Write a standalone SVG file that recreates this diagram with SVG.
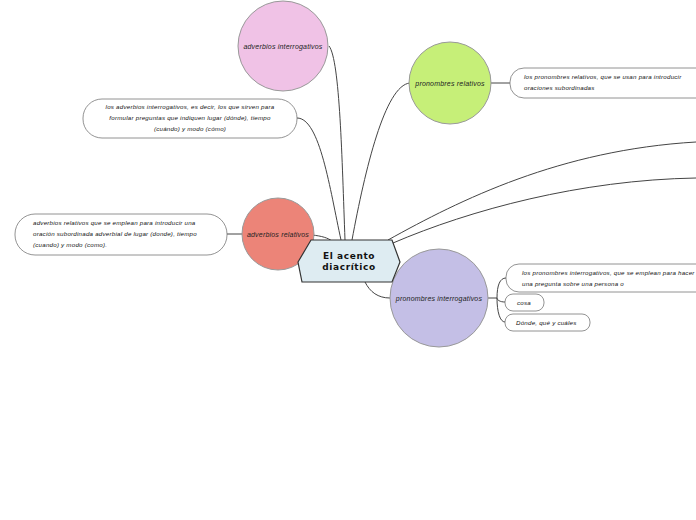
<svg xmlns="http://www.w3.org/2000/svg" width="696" height="520" viewBox="0 0 696 520">
<style>
.c{fill:none;stroke:#444;stroke-width:1}
.circ{stroke:#999;stroke-width:1}
.lbl{font-family:"Liberation Sans",Arial,sans-serif;font-style:italic;font-size:7px;fill:#222;letter-spacing:0.2px}
.box{fill:#fff;stroke:#777;stroke-width:0.8}
.bt{font-family:"Liberation Sans",Arial,sans-serif;font-style:italic;font-size:6.2px;fill:#111;letter-spacing:0.22px}
.main{font-family:"DejaVu Sans",Verdana,sans-serif;font-weight:bold;font-size:9px;fill:#111;letter-spacing:0.6px}
</style>
<rect width="696" height="520" fill="#fff"/>
<g id="connectors">
<path class="c" d="M345,240 C342,160 340,60 329,46"/>
<path class="c" d="M341,240 C330,190 320,118 297,118"/>
<path class="c" d="M352,240 C365,170 385,85 410,83"/>
<path class="c" d="M388,240 C460,200 560,150 696,142"/>
<path class="c" d="M393,243 C470,210 580,180 696,178"/>
<path class="c" d="M312,235 C322,236 328,238 332,241"/>
<path class="c" d="M242,234 L227,234"/>
<path class="c" d="M365,282 C370,292 378,298 390,298"/>
<path class="c" d="M491,83 L510,83"/>
<path class="c" d="M488,298 L497,298"/>
<path class="c" d="M497,298 C497,285 500,278 506,278"/>
<path class="c" d="M497,298 C497,300 500,302 505,302"/>
<path class="c" d="M497,298 C497,312 500,322 505,322"/>
</g>
<g id="n-adv-interrog">
<circle class="circ" cx="283" cy="46" r="45" fill="#f0c2e6"/>
<text class="lbl" x="283" y="48.5" text-anchor="middle">adverbios interrogativos</text>
</g>
<g id="n-pron-rel">
<circle class="circ" cx="450" cy="83" r="41" fill="#c6ef78"/>
<text class="lbl" x="450" y="85.5" text-anchor="middle">pronombres relativos</text>
</g>
<g id="n-adv-rel">
<circle class="circ" cx="278" cy="234" r="36" fill="#ec8478"/>
<text class="lbl" x="278" y="236.5" text-anchor="middle">adverbios relativos</text>
</g>
<g id="n-pron-interrog">
<circle class="circ" cx="439" cy="298" r="49" fill="#c4bfe6"/>
<text class="lbl" x="439" y="300.5" text-anchor="middle">pronombres interrogativos</text>
</g>
<g id="n-main">
<polygon points="311,240 392,240 400,262 392,282 302,282 298,262" fill="#deecf2" stroke="#333" stroke-width="1.2"/>
<text class="main" x="349" y="259" text-anchor="middle">El acento</text>
<text class="main" x="349" y="270" text-anchor="middle">diacrítico</text>
</g>
<g id="b-pron-rel">
<rect class="box" x="510" y="68" width="210" height="30" rx="14"/>
<text class="bt" x="524" y="79">los pronombres relativos, que se usan para introducir</text>
<text class="bt" x="524" y="90">oraciones subordinadas</text>
</g>
<g id="b-adv-interrog">
<rect class="box" x="83" y="99" width="214" height="39" rx="19"/>
<text class="bt" x="190" y="109" text-anchor="middle">los adverbios interrogativos, es decir, los que sirven para</text>
<text class="bt" x="190" y="120" text-anchor="middle">formular preguntas que indiquen lugar (dónde), tiempo</text>
<text class="bt" x="190" y="131" text-anchor="middle">(cuándo) y modo (cómo)</text>
</g>
<g id="b-adv-rel">
<rect class="box" x="15" y="214" width="212" height="41" rx="20"/>
<text class="bt" x="33" y="225">adverbios relativos que se emplean para introducir una</text>
<text class="bt" x="33" y="236">oración subordinada adverbial de lugar (donde), tiempo</text>
<text class="bt" x="33" y="247">(cuando) y modo (como).</text>
</g>
<g id="b-pron-interrog">
<rect class="box" x="506" y="264" width="214" height="28" rx="13"/>
<text class="bt" x="522" y="275">los pronombres interrogativos, que se emplean para hacer</text>
<text class="bt" x="522" y="286">una pregunta sobre una persona o</text>
</g>
<g id="b-cosa">
<rect class="box" x="505" y="294" width="39" height="17" rx="8"/>
<text class="bt" x="517" y="305">cosa</text>
</g>
<g id="b-donde">
<rect class="box" x="505" y="314" width="85" height="17" rx="8"/>
<text class="bt" x="516" y="325">Dónde, qué y cuáles</text>
</g>
</svg>
